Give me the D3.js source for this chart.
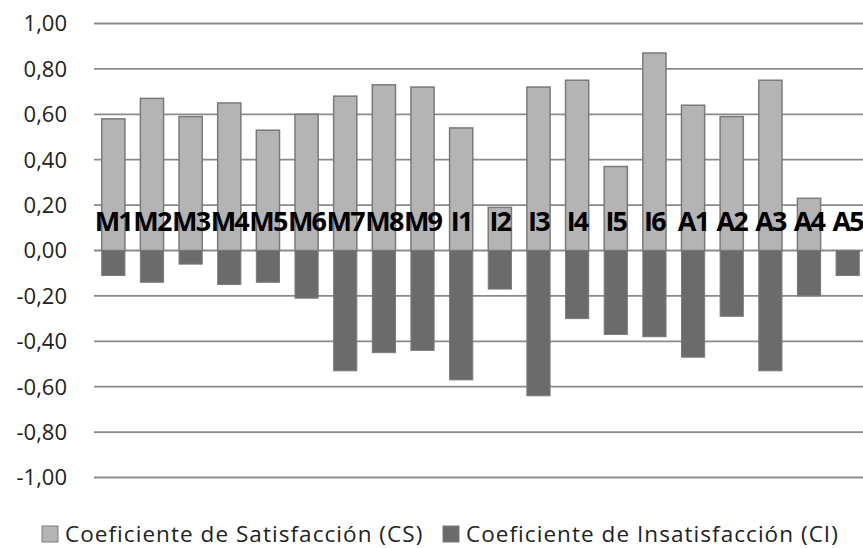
<!DOCTYPE html>
<html>
<head>
<meta charset="utf-8">
<script src="https://cdn.jsdelivr.net/npm/d3@7"></script>
<style>
  body { margin: 0; background: #fff; }
  svg text { font-family: "Open Sans", "Noto Sans", sans-serif; }
</style>
</head>
<body>
<svg width="863" height="548"></svg>
<script>
// Categories and values
var categories = ["M1","M2","M3","M4","M5","M6","M7","M8","M9","I1","I2","I3","I4","I5","I6","A1","A2","A3","A4","A5"];
var csValues = [0.58,0.67,0.59,0.65,0.53,0.60,0.68,0.73,0.72,0.54,0.19,0.72,0.75,0.37,0.87,0.64,0.59,0.75,0.23,0.00];
var ciValues = [-0.11,-0.14,-0.06,-0.15,-0.14,-0.21,-0.53,-0.45,-0.44,-0.57,-0.17,-0.64,-0.30,-0.37,-0.38,-0.47,-0.29,-0.53,-0.20,-0.11];
var yTicks = [1,0.8,0.6,0.4,0.2,0,-0.2,-0.4,-0.6,-0.8,-1];
var seriesNames = ["Coeficiente de Satisfacción (CS)", "Coeficiente de Insatisfacción (CI)"];

var csFill = "#b4b4b4", ciFill = "#6b6b6b", barStroke = "#7a7a7a";

var svg = d3.select("svg"),
  width = +svg.attr("width"),
  height = +svg.attr("height");

var margin = {left: 94, right: -4, top: 23.5, bottom: 70.5};

var x = d3.scaleBand()
  .domain(categories)
  .range([margin.left, width - margin.right])
  .paddingInner(0.4)
  .paddingOuter(0.2);

var y = d3.scaleLinear()
  .domain([-1, 1])
  .range([height - margin.bottom, margin.top]);

// gridlines
svg.append("g")
  .selectAll("line")
  .data(yTicks)
  .enter()
  .append("line")
  .attr("x1", margin.left)
  .attr("x2", width)
  .attr("y1", function(d) { return y(d); })
  .attr("y2", function(d) { return y(d); })
  .attr("stroke", "#8a8a8a")
  .attr("stroke-width", 1.8);

// y tick labels
svg.append("g")
  .selectAll("text")
  .data(yTicks)
  .enter()
  .append("text")
  .attr("x", 67)
  .attr("y", function(d) { return y(d); })
  .attr("dy", "0.36em")
  .attr("text-anchor", "end")
  .attr("font-size", "22px")
  .attr("fill", "#222")
  .text(function(d) { return d3.format(".2f")(d).replace("−", "-").replace(".", ","); });

// CS bars
svg.append("g")
  .selectAll("rect")
  .data(csValues)
  .enter()
  .append("rect")
  .attr("x", function(d, i) { return x(categories[i]); })
  .attr("width", x.bandwidth())
  .attr("y", function(d) { return y(Math.max(d, 0)); })
  .attr("height", function(d) { return Math.abs(y(d) - y(0)); })
  .attr("fill", csFill)
  .attr("stroke", function(d) { return d > 0 ? barStroke : "none"; })
  .attr("stroke-width", 1.5);

// CI bars
svg.append("g")
  .selectAll("rect")
  .data(ciValues)
  .enter()
  .append("rect")
  .attr("x", function(d, i) { return x(categories[i]); })
  .attr("width", x.bandwidth())
  .attr("y", y(0))
  .attr("height", function(d) { return Math.abs(y(d) - y(0)); })
  .attr("fill", ciFill)
  .attr("stroke", barStroke)
  .attr("stroke-width", 1);

// category labels (sit a bit above zero line)
svg.append("g")
  .selectAll("text")
  .data(categories)
  .enter()
  .append("text")
  .attr("x", function(d) { return x(d) + x.bandwidth() / 2; })
  .attr("y", y(0.088))
  .attr("text-anchor", "middle")
  .attr("font-size", "27px")
  .attr("font-weight", "bold")
  .attr("letter-spacing", "-1.8px")
  .attr("fill", "#000")
  .text(function(d) { return d; });

// legend
var legendX = [42, 443];
var legend = svg.append("g")
  .selectAll("g")
  .data(seriesNames)
  .enter()
  .append("g")
  .attr("transform", function(d, i) { return "translate(" + legendX[i] + ",526)"; });

legend.append("rect")
  .attr("width", 16)
  .attr("height", 16)
  .attr("fill", function(d, i) { return i === 0 ? csFill : ciFill; })
  .attr("stroke", barStroke)
  .attr("stroke-width", 1);

legend.append("text")
  .attr("x", 23)
  .attr("y", 16)
  .attr("font-size", "22.5px")
  .attr("letter-spacing", "1.05px")
  .attr("fill", "#222")
  .text(function(d) { return d; });
</script>
</body>
</html>
